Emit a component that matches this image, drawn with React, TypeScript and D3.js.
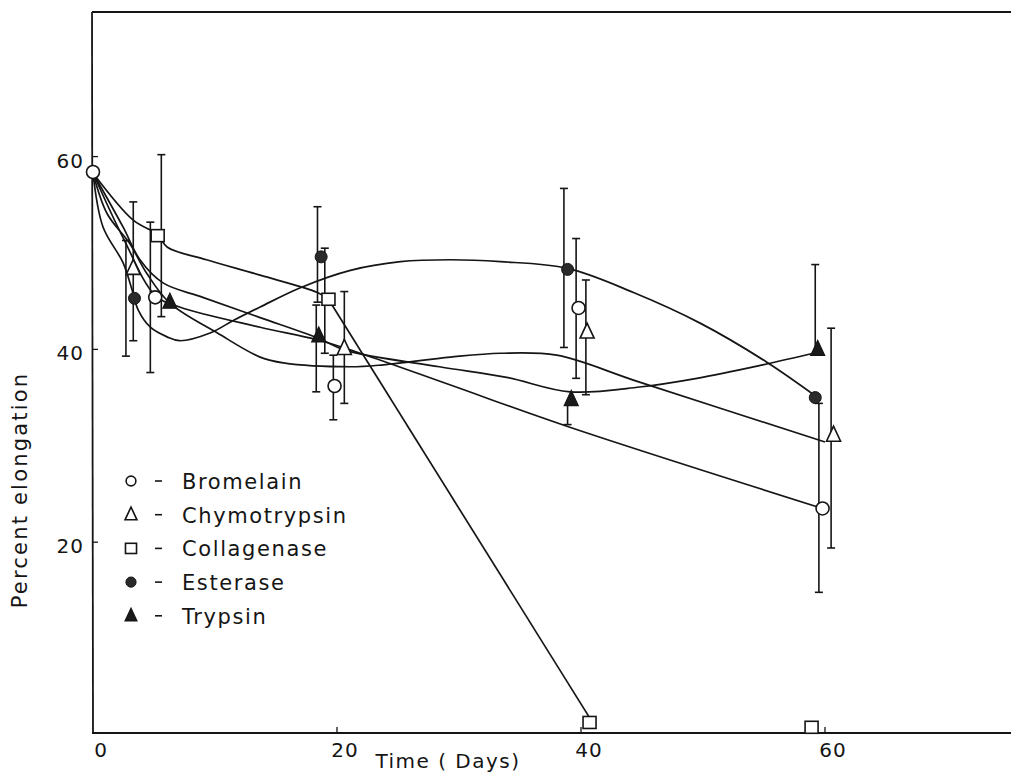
import React from 'react';
import * as d3 from 'd3';

// ---------- data (days, percent elongation) ----------
const seriesNames = ['Bromelain', 'Chymotrypsin', 'Collagenase', 'Esterase', 'Trypsin'];
const seriesMarkers = ['openCircle', 'openTriangle', 'openSquare', 'filledCircle', 'filledTriangle'];

const bromelainDays = [0, 5.1, 19.8, 39.8, 59.8];
const bromelainValues = [58.4, 45.4, 36.2, 44.3, 23.5];
const bromelainErrLow = [null, 37.6, 32.7, 37.0, 14.8];
const bromelainErrHigh = [null, 53.2, 39.4, 51.5, 34.4];
const bromelainErrDays = [null, 4.7, 19.7, 39.6, 59.5];

const chymotrypsinDays = [3.3, 20.6, 40.5, 60.7];
const chymotrypsinValues = [48.4, 40.1, 41.8, 31.1];
const chymotrypsinErrLow = [40.9, 34.4, 35.3, 19.4];
const chymotrypsinErrHigh = [55.3, 46.0, 47.2, 42.2];
const chymotrypsinErrDays = [3.3, 20.6, 40.4, 60.5];

const collagenaseDays = [5.3, 19.3, 40.7, 58.9];
const collagenaseValues = [51.8, 45.2, 1.3, 0.8];
const collagenaseErrLow = [43.4, 39.6, null, null];
const collagenaseErrHigh = [60.2, 50.5, null, null];
const collagenaseErrDays = [5.6, 19.0, null, null];

const esteraseDays = [3.4, 18.7, 38.9, 59.2];
const esteraseValues = [45.3, 49.6, 48.3, 35.0];
const esteraseErrLow = [39.3, 44.9, 40.2, null];
const esteraseErrHigh = [51.3, 54.8, 56.7, null];
const esteraseErrDays = [2.7, 18.4, 38.6, null];

const trypsinDays = [6.3, 18.5, 39.2, 59.4];
const trypsinValues = [44.9, 41.4, 34.8, 40.0];
const trypsinErrLow = [null, 35.6, 32.2, 40.0];
const trypsinErrHigh = [null, 44.6, 34.8, 48.8];
const trypsinErrDays = [null, 18.3, 38.9, 59.2];

// hand-drawn fitted curves [day, value]
const bromelainFit = [[0, 58.3], [2.5, 51.5], [5.1, 45.6], [7.1, 44.4], [13.7, 42.3], [18.4, 41.0], [21.9, 39.6], [29.3, 36.3], [38.9, 32.0], [59.8, 23.5]];
const chymotrypsinFit = [[0, 58.3], [1.15, 54.1], [3.0, 51.0], [4.4, 47.9], [6.3, 44.8], [10.2, 41.7], [13.7, 39.2], [15.6, 38.6], [21.1, 38.2], [23.8, 38.4], [29.3, 39.2], [33.4, 39.6], [38.0, 39.4], [44.8, 36.6], [60.0, 30.4]];
const collagenaseFit = [[0, 58.3], [3.3, 53.4], [5.3, 51.9], [6.1, 50.6], [9.3, 49.3], [13.7, 47.7], [18.4, 45.9], [19.3, 45.2]];
const collagenaseDrop = [[19.3, 45.2], [40.7, 1.8]];
const esteraseFit = [[0, 58.3], [0.82, 52.7], [2.46, 49.0], [3.2, 46.2], [3.7, 44.1], [4.7, 42.3], [6.07, 41.3], [7.1, 40.9], [9.6, 41.7], [11.5, 43.0], [13.7, 44.4], [17.0, 46.4], [21.1, 48.2], [25.2, 49.1], [29.3, 49.3], [33.4, 49.1], [38.9, 48.4], [44.3, 45.9], [49.8, 42.7], [55.2, 38.7], [59.3, 35.1]];
const trypsinFit = [[0, 58.3], [2.46, 52.7], [3.85, 49.3], [5.74, 46.9], [9.0, 45.4], [13.7, 43.3], [18.4, 41.2], [20.7, 39.9], [28.4, 38.2], [33.9, 37.1], [39.1, 35.6], [44.8, 36.1], [49.5, 37.0], [54.9, 38.4], [59.4, 39.7]];

const xTicks = [0, 20, 40, 60];
const yTicks = [20, 40, 60];
const xTitle = 'Time ( Days)';
const yTitle = 'Percent elongation';

const series = [
  { days: bromelainDays, values: bromelainValues, lo: bromelainErrLow, hi: bromelainErrHigh, ed: bromelainErrDays, fit: [bromelainFit] },
  { days: chymotrypsinDays, values: chymotrypsinValues, lo: chymotrypsinErrLow, hi: chymotrypsinErrHigh, ed: chymotrypsinErrDays, fit: [chymotrypsinFit] },
  { days: collagenaseDays, values: collagenaseValues, lo: collagenaseErrLow, hi: collagenaseErrHigh, ed: collagenaseErrDays, fit: [collagenaseFit] },
  { days: esteraseDays, values: esteraseValues, lo: esteraseErrLow, hi: esteraseErrHigh, ed: esteraseErrDays, fit: [esteraseFit] },
  { days: trypsinDays, values: trypsinValues, lo: trypsinErrLow, hi: trypsinErrHigh, ed: trypsinErrDays, fit: [trypsinFit] },
];

const W = 1011;
const H = 773;
const LEFT = 92;
const TOP = 12;
const BOTTOM = 733;
const INK = '#151515';
const FONT = '"DejaVu Sans", sans-serif';

function Marker({ type, cx, cy, s = 1 }: { type: string; cx: number; cy: number; s?: number }) {
  const sw = 1.6;
  if (type === 'openCircle') return <circle cx={cx} cy={cy} r={6.5 * s} fill="white" stroke={INK} strokeWidth={sw} />;
  if (type === 'filledCircle') return <circle cx={cx} cy={cy} r={6 * s} fill="#2a2a2a" stroke={INK} strokeWidth={1} />;
  if (type === 'openSquare')
    return <rect x={cx - 6.5 * s} y={cy - 6 * s} width={13 * s} height={12 * s} fill="white" stroke={INK} strokeWidth={sw} />;
  const h = 15 * s;
  const w = 14 * s;
  const pts = `${cx},${cy - h * 0.6} ${cx - w / 2},${cy + h * 0.4} ${cx + w / 2},${cy + h * 0.4}`;
  if (type === 'openTriangle') return <polygon points={pts} fill="white" stroke={INK} strokeWidth={sw} />;
  return <polygon points={pts} fill="#1a1a1a" stroke={INK} strokeWidth={1.2} />;
}

export default function App() {
  const x = d3.scaleLinear().domain([0, 75]).range([93, 1008]);
  const y = d3.scaleLinear().domain([0, 75]).range([735, 12]);
  const curve = d3.line<number[]>().x((d) => x(d[0])).y((d) => y(d[1])).curve(d3.curveCatmullRom.alpha(0.5));
  const straight = d3.line<number[]>().x((d) => x(d[0])).y((d) => y(d[1]));

  const legendY0 = 481;
  const legendStep = 33.7;

  return (
    <svg width={W} height={H} style={{ position: 'absolute', left: 0, top: 0, background: 'white' }}>
      <rect x={0} y={0} width={W} height={H} fill="white" />
      {/* frame */}
      <line x1={LEFT} y1={TOP} x2={W} y2={TOP} stroke={INK} strokeWidth={1.8} />
      <line x1={LEFT} y1={TOP} x2={LEFT + 1} y2={BOTTOM} stroke={INK} strokeWidth={1.8} />
      <line x1={LEFT} y1={BOTTOM} x2={W} y2={BOTTOM} stroke={INK} strokeWidth={1.8} />

      {/* ticks */}
      {xTicks.map((t) => (
        <g key={'xt' + t}>
          {t > 0 && <line x1={x(t)} x2={x(t)} y1={BOTTOM} y2={BOTTOM - 6} stroke={INK} strokeWidth={1.3} />}
          <text x={x(t) + 8} y={757} textAnchor="middle" fontFamily={FONT} fontSize={20} fill={INK} letterSpacing={1}>
            {t}
          </text>
        </g>
      ))}
      {yTicks.map((t) => (
        <g key={'yt' + t}>
          <line x1={LEFT} x2={LEFT + 6} y1={y(t)} y2={y(t)} stroke={INK} strokeWidth={1.3} />
          <text x={84} y={y(t) + 11} textAnchor="end" fontFamily={FONT} fontSize={20} fill={INK} letterSpacing={1}>
            {t}
          </text>
        </g>
      ))}

      {/* axis titles */}
      <text x={448} y={768} textAnchor="middle" fontFamily={FONT} fontSize={20} fill={INK} letterSpacing={1.5}>
        {xTitle}
      </text>
      <text
        transform={`translate(27,490) rotate(-90)`}
        textAnchor="middle"
        fontFamily={FONT}
        fontSize={21}
        fill={INK}
        letterSpacing={2.2}
      >
        {yTitle}
      </text>

      {/* fitted curves */}
      {series.map((s, i) =>
        s.fit.map((f, j) => (
          <path key={`fit${i}-${j}`} d={curve(f) || ''} fill="none" stroke={INK} strokeWidth={1.7} />
        ))
      )}
      <path d={straight(collagenaseDrop) || ''} fill="none" stroke={INK} strokeWidth={1.7} />

      {/* error bars */}
      {series.map((s, i) =>
        s.days.map((d, k) => {
          const lo = s.lo[k];
          const hi = s.hi[k];
          const ed = s.ed[k];
          if (lo == null || hi == null || ed == null) return null;
          const bx = x(ed);
          return (
            <g key={`eb${i}-${k}`}>
              <line x1={bx} x2={bx} y1={y(lo)} y2={y(hi)} stroke={INK} strokeWidth={1.6} />
              {hi > s.values[k] + 0.1 && <line x1={bx - 4} x2={bx + 4} y1={y(hi)} y2={y(hi)} stroke={INK} strokeWidth={1.6} />}
              {lo < s.values[k] - 0.1 && <line x1={bx - 4} x2={bx + 4} y1={y(lo)} y2={y(lo)} stroke={INK} strokeWidth={1.6} />}
            </g>
          );
        })
      )}

      {/* markers */}
      {series.map((s, i) =>
        s.days.map((d, k) => <Marker key={`m${i}-${k}`} type={seriesMarkers[i]} cx={x(d)} cy={y(s.values[k])} />)
      )}

      {/* legend */}
      {seriesNames.map((name, i) => {
        const cy = legendY0 + i * legendStep;
        return (
          <g key={'lg' + i}>
            <Marker type={seriesMarkers[i]} cx={131} cy={cy} s={i === 0 ? 0.75 : 0.85} />
            <line x1={155} x2={162} y1={cy} y2={cy} stroke={INK} strokeWidth={1.6} />
            <text x={182} y={cy + 8} fontFamily={FONT} fontSize={21} fill={INK} letterSpacing={1.6}>
              {name}
            </text>
          </g>
        );
      })}
    </svg>
  );
}
